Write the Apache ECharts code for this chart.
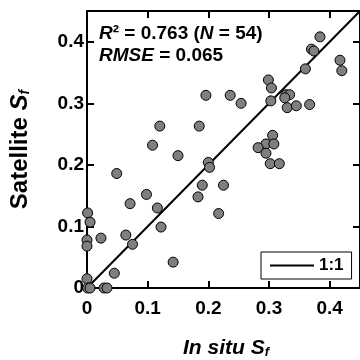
<!DOCTYPE html>
<html>
<head>
<meta charset="utf-8">
<script src="https://cdn.jsdelivr.net/npm/echarts@6/dist/echarts.min.js"></script>
<style>
  html, body { margin: 0; padding: 0; background: #fff; }
  #chart { width: 360px; height: 360px; }
</style>
</head>
<body>
<div id="chart"></div>
<script>
// in situ vs satellite snow fraction
const inSitu = [
  0.001, 0.005, 0.000, 0.000, 0.000, 0.001, 0.005, 0.028, 0.033, 0.023,
  0.045, 0.049, 0.064, 0.071, 0.075, 0.098, 0.116, 0.122, 0.142, 0.108,
  0.120, 0.150, 0.200, 0.202, 0.190, 0.225, 0.183, 0.217, 0.185, 0.196,
  0.236, 0.254, 0.306, 0.295, 0.308, 0.282, 0.295, 0.302, 0.317, 0.299,
  0.304, 0.303, 0.328, 0.334, 0.326, 0.330, 0.345, 0.367, 0.360, 0.370,
  0.374, 0.384, 0.417, 0.420,
];
const satellite = [
  0.122, 0.107, 0.078, 0.068, 0.015, 0.000, 0.000, 0.000, 0.000, 0.081,
  0.024, 0.186, 0.086, 0.137, 0.071, 0.152, 0.130, 0.099, 0.042, 0.232,
  0.263, 0.215, 0.204, 0.196, 0.167, 0.167, 0.148, 0.121, 0.263, 0.313,
  0.313, 0.300, 0.248, 0.234, 0.234, 0.228, 0.219, 0.202, 0.202, 0.338,
  0.325, 0.304, 0.314, 0.314, 0.309, 0.293, 0.296, 0.298, 0.356, 0.388,
  0.385, 0.408, 0.370, 0.353,
];
const oneToOne = [0, 0.45];
const tickLabels = ['0', '0.1', '0.2', '0.3', '0.4'];

const font = 'Liberation Sans, Arial, sans-serif';
const points = inSitu.map((x, i) => [x, satellite[i]]);

function tickText(v) {
  const idx = Math.round(v * 10);
  return Math.abs(v * 10 - idx) < 1e-6 ? tickLabels[idx] || '' : '';
}

function makeAxis(position, showLabel, extra) {
  return Object.assign({
    type: 'value',
    position,
    min: 0,
    max: 0.45,
    interval: 0.1,
    axisLine: { show: true, onZero: false, lineStyle: { color: '#000', width: 2 } },
    axisTick: { show: true, inside: true, length: 7, lineStyle: { color: '#000', width: 2 } },
    axisLabel: {
      show: showLabel,
      formatter: tickText,
      showMaxLabel: false,
      color: '#000',
      fontFamily: font,
      fontWeight: 'bold',
      fontSize: 19,
    },
    splitLine: { show: false },
  }, extra || {});
}

const bold = { fontFamily: font, fontWeight: 'bold', color: '#000' };

const chart = echarts.init(document.getElementById('chart'));
chart.setOption({
  animation: false,
  backgroundColor: '#fff',
  grid: { left: 84, top: 11, width: 279, height: 277 },
  title: [
    {
      left: 99, top: 24, padding: 0,
      text: '{i|R}{b|² = 0.763 (}{i|N}{b| = 54)}',
      textStyle: { rich: {
        i: { ...bold, fontStyle: 'italic', fontSize: 19 },
        b: { ...bold, fontSize: 19 },
      } },
    },
    {
      left: 99, top: 46, padding: 0,
      text: '{i|RMSE}{b| = 0.065}',
      textStyle: { rich: {
        i: { ...bold, fontStyle: 'italic', fontSize: 19 },
        b: { ...bold, fontSize: 19 },
      } },
    },
    {
      left: 183, top: 331, padding: 0,
      text: '{m|In situ S}{s|f}',
      textStyle: { rich: {
        m: { ...bold, fontStyle: 'italic', fontSize: 21, lineHeight: 28, verticalAlign: 'bottom' },
        s: { ...bold, fontStyle: 'italic', fontSize: 13, lineHeight: 13, verticalAlign: 'bottom' },
      } },
    },
  ],
  legend: {
    data: [{ name: '1:1', icon: 'rect' }],
    left: 261,
    top: 252,
    itemWidth: 44,
    itemHeight: 2,
    itemGap: 0,
    padding: [5, 8, 5, 9],
    borderColor: '#000',
    borderWidth: 1,
    backgroundColor: '#fff',
    textStyle: { ...bold, fontSize: 17 },
  },
  xAxis: [
    makeAxis('bottom', true, { axisLabel: {
      show: true, formatter: tickText, showMaxLabel: false, margin: 11,
      color: '#000', fontFamily: font, fontWeight: 'bold', fontSize: 19,
    } }),
    makeAxis('top', false),
  ],
  yAxis: [
    makeAxis('left', true, {
      name: '{m|Satellite }{i|S}{s|f}',
      nameLocation: 'middle',
      nameRotate: 90,
      nameGap: 55,
      nameTextStyle: { rich: {
        m: { ...bold, fontSize: 24, lineHeight: 30, verticalAlign: 'bottom' },
        i: { ...bold, fontStyle: 'italic', fontSize: 24, lineHeight: 30, verticalAlign: 'bottom' },
        s: { ...bold, fontStyle: 'italic', fontSize: 14, lineHeight: 14, verticalAlign: 'bottom' },
      } },
      axisLabel: {
        show: true, formatter: tickText, showMaxLabel: false, margin: 3,
        color: '#000', fontFamily: font, fontWeight: 'bold', fontSize: 19,
      },
    }),
    makeAxis('right', false),
  ],
  series: [
    {
      name: '1:1',
      type: 'line',
      data: oneToOne.map((v) => [v, v]),
      showSymbol: false,
      symbol: 'none',
      lineStyle: { color: '#000', width: 2 },
      itemStyle: { color: '#000' },
      z: 1,
    },
    {
      name: 'points',
      type: 'scatter',
      data: points,
      symbol: 'circle',
      symbolSize: 10,
      itemStyle: { color: '#7f7f7f', borderColor: '#000', borderWidth: 1, opacity: 1 },
      z: 3,
    },
  ],
});
</script>
</body>
</html>
